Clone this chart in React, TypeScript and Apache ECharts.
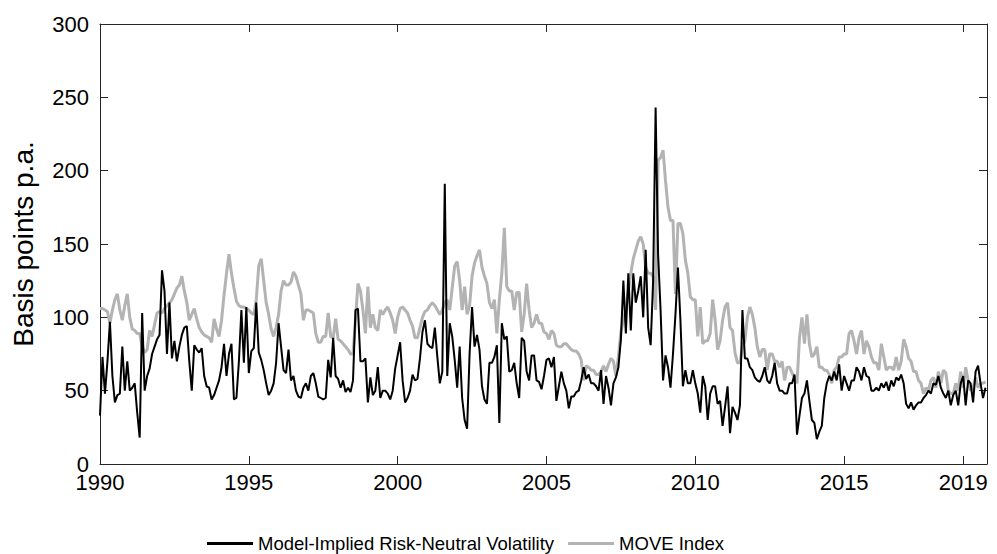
import React, { useEffect, useRef } from "react";
import * as echarts from "echarts";

const START_YEAR = 1990;
const X_MIN = 1990;
const X_MAX = 2019.8;
const xTickYears = [1990, 1995, 2000, 2005, 2010, 2015, 2019];

// Model-implied risk-neutral volatility (monthly, basis points p.a.)
const modelVol1990s = [
  33, 73, 48, 70, 97, 60, 42, 47, 48, 80, 50, 70,
  50, 52, 55, 35, 18, 103, 50, 60, 65, 75, 80, 85,
  88, 132, 118, 75, 110, 72, 84, 70, 80, 88, 93, 94,
  70, 50, 81, 78, 76, 79, 60, 53, 52, 44, 47, 52,
  57, 66, 82, 60, 75, 82, 44, 45, 70, 105, 69, 107,
  62, 77, 79, 110, 76, 71, 64, 55, 47, 50, 55, 69,
  96, 80, 64, 62, 78, 57, 60, 50, 46, 45, 52, 55,
  50, 60, 62, 55, 46, 45, 44, 45, 71, 59, 86, 60,
  58, 52, 57, 49, 52, 49, 57, 105, 106, 70, 70, 72,
  42, 59, 47, 50, 66, 45, 50, 50, 48, 44, 50, 65,
];
const modelVol2000s = [
  74, 83, 57, 42, 45, 50, 61, 57, 58, 72, 90, 98,
  82, 80, 79, 93, 73, 55, 63, 191, 60, 96, 87, 71,
  52, 80, 45, 30, 24, 75, 107, 80, 88, 78, 53, 44,
  41, 69, 69, 73, 81, 28, 96, 85, 87, 63, 64, 69,
  55, 45, 86, 84, 63, 57, 74, 74, 57, 56, 51, 60,
  71, 72, 66, 73, 43, 53, 63, 55, 50, 38, 46, 46,
  49, 50, 57, 66, 58, 61, 55, 55, 53, 50, 64, 41,
  60, 52, 40, 55, 59, 66, 85, 125, 89, 130, 91, 130,
  110, 118, 128, 100, 146, 93, 81, 125, 243, 143, 105, 57,
  74, 66, 52, 75, 102, 134, 98, 53, 64, 55, 55, 64,
];
const modelVol2010s = [
  55, 48, 35, 60, 53, 30, 48, 53, 53, 41, 43, 26,
  39, 53, 21, 39, 35, 30, 40, 105, 72, 72, 66, 64,
  59, 57, 56, 60, 66, 57, 55, 60, 69, 55, 50, 50,
  48, 48, 55, 55, 61, 20, 33, 45, 48, 57, 43, 30,
  28, 17, 22, 26, 45, 55, 60, 57, 63, 57, 68, 50,
  60, 55, 50, 57, 57, 66, 63, 57, 66, 60, 59, 50,
  50, 52, 50, 55, 52, 56, 50, 57, 53, 59, 57, 61,
  55, 41, 38, 42, 37, 40, 42, 42, 45, 47, 50, 48,
  55, 54, 60, 52, 48, 45, 50, 40, 47, 50, 40, 55,
  60, 40, 57, 55, 42, 63, 67, 55, 45, 52,
];

// MOVE Index (monthly)
const move1990s = [
  106, 106, 105, 104, 96, 105, 112, 116, 105, 98, 108, 116,
  100, 92, 91, 89, 89, 80, 76, 78, 91, 87, 95, 103,
  104, 103, 106, 108, 110, 112, 116, 120, 122, 128, 118, 110,
  98, 102, 106, 99, 93, 90, 88, 87, 86, 83, 99, 92,
  87, 98, 115, 130, 143, 130, 120, 111, 108, 107, 107, 106,
  105, 103, 102, 112, 135, 140, 125, 110, 102, 92, 87, 93,
  102, 118, 125, 122, 122, 124, 131, 128, 122, 116, 98, 105,
  105, 104, 103, 89, 83, 83, 87, 87, 103, 87, 86, 99,
  85, 84, 82, 80, 78, 75, 75, 98, 123, 118, 105, 89,
  121, 93, 102, 93, 91, 105, 102, 105, 107, 103, 98, 89,
];
const move2000s = [
  100, 106, 107, 105, 103, 98, 94, 86, 86, 93, 100, 104,
  105, 108, 110, 108, 105, 102, 105, 110, 112, 105, 120, 135,
  138, 125, 105, 121, 102, 108, 128, 137, 142, 146, 134, 128,
  123, 110, 106, 112, 89, 112, 130, 161, 121, 118, 118, 105,
  117, 117, 90, 102, 123, 105, 93, 96, 102, 96, 96, 90,
  89, 85, 91, 89, 81, 80, 80, 82, 82, 80, 78, 77,
  77, 75, 71, 57, 67, 66, 64, 64, 61, 61, 63, 67,
  63, 68, 72, 70, 60, 73, 90, 98, 105, 118, 130, 140,
  146, 152, 155, 150, 134, 130, 130, 128, 105, 207, 209, 214,
  193, 175, 166, 166, 116, 164, 164, 157, 139, 130, 114, 112,
];
const move2010s = [
  112, 87, 107, 82, 84, 84, 89, 112, 98, 78, 84, 98,
  107, 110, 93, 91, 76, 69, 69, 80, 84, 100, 107, 102,
  93, 80, 73, 78, 78, 64, 75, 75, 70, 70, 66, 70,
  57, 66, 66, 62, 59, 55, 86, 100, 82, 102, 82, 73,
  75, 80, 66, 66, 64, 64, 61, 55, 64, 66, 73, 73,
  75, 75, 89, 91, 84, 75, 86, 91, 75, 84, 80, 73,
  69, 69, 64, 82, 73, 64, 66, 66, 64, 73, 64, 70,
  85, 80, 72, 70, 63, 63, 57, 55, 48, 52, 50, 57,
  59, 52, 63, 55, 64, 62, 50, 48, 48, 55, 50, 63,
  52, 66, 57, 50, 52, 59, 52, 55, 55, 56,
];

const modelVol = [...modelVol1990s, ...modelVol2000s, ...modelVol2010s];
const moveIndex = [...move1990s, ...move2000s, ...move2010s];

const toPoints = (values: number[]) =>
  values.map((v, i) => [START_YEAR + i / 12, v]);

const FONT = "'Liberation Sans', Arial, Helvetica, sans-serif";
const AXIS_COLOR = "#262626";

export default function App() {
  const ref = useRef<HTMLDivElement>(null);
  useEffect(() => {
    const chart = echarts.init(ref.current!, null, { renderer: "svg" });
    const lineStyle = { color: AXIS_COLOR, width: 1 };
    chart.setOption({
      animation: false,
      backgroundColor: "#ffffff",
      textStyle: { fontFamily: FONT },
      grid: { left: 100, right: 10, top: 24, bottom: 90, containLabel: false },
      legend: {
        left: 202,
        top: 529,
        itemWidth: 46,
        itemHeight: 3,
        itemGap: 14,
        icon: "rect",
        textStyle: { fontSize: 18.5, color: "#000", fontFamily: FONT },
        data: ["Model-Implied Risk-Neutral Volatility", "MOVE Index"],
      },
      xAxis: [
        {
          type: "value",
          min: X_MIN,
          max: X_MAX,
          position: "bottom",
          axisLine: { show: true, onZero: false, lineStyle },
          axisTick: { show: true, inside: true, length: 8, customValues: xTickYears, lineStyle },
          axisLabel: {
            customValues: xTickYears,
            fontSize: 22,
            color: "#000",
            margin: 7,
            fontFamily: FONT,
            formatter: (v: number) => String(Math.round(v)),
          },
          splitLine: { show: false },
        },
        {
          type: "value",
          min: X_MIN,
          max: X_MAX,
          position: "top",
          axisLine: { show: true, onZero: false, lineStyle },
          axisTick: { show: true, inside: true, length: 8, customValues: xTickYears, lineStyle },
          axisLabel: { show: false },
          splitLine: { show: false },
        },
      ],
      yAxis: [
        {
          type: "value",
          min: 0,
          max: 300,
          interval: 50,
          name: "Basis points p.a.",
          nameLocation: "middle",
          nameGap: 63,
          nameTextStyle: { fontSize: 28, color: "#000", fontFamily: FONT },
          axisLine: { show: true, onZero: false, lineStyle },
          axisTick: { show: true, inside: true, length: 8, lineStyle },
          axisLabel: { fontSize: 22, color: "#000", margin: 11, fontFamily: FONT },
          splitLine: { show: false },
        },
        {
          type: "value",
          min: 0,
          max: 300,
          interval: 50,
          position: "right",
          axisLine: { show: true, onZero: false, lineStyle },
          axisTick: { show: true, inside: true, length: 8, lineStyle },
          axisLabel: { show: false },
          splitLine: { show: false },
        },
      ],
      series: [
        {
          name: "Model-Implied Risk-Neutral Volatility",
          type: "line",
          xAxisIndex: 0,
          yAxisIndex: 0,
          data: toPoints(modelVol),
          symbol: "none",
          lineStyle: { color: "#000000", width: 2 },
          itemStyle: { color: "#000000" },
          z: 3,
        },
        {
          name: "MOVE Index",
          type: "line",
          xAxisIndex: 0,
          yAxisIndex: 0,
          data: toPoints(moveIndex),
          symbol: "none",
          lineStyle: { color: "#b3b3b3", width: 3 },
          itemStyle: { color: "#b3b3b3" },
          z: 2,
        },
      ],
    });
    return () => chart.dispose();
  }, []);
  return (
    <div
      ref={ref}
      style={{ position: "absolute", left: 0, top: 0, width: 997, height: 554 }}
    />
  );
}
